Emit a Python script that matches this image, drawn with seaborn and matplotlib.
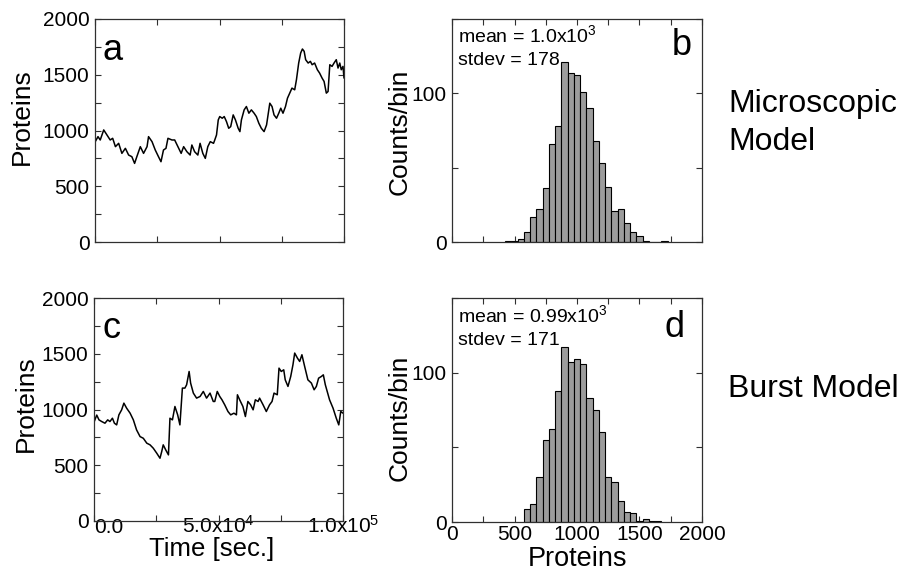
import matplotlib
matplotlib.use("Agg")
import matplotlib.pyplot as plt
import numpy as np
import pandas as pd
import seaborn as sns

# ---------------- time series: microscopic model (panel a) ----------------
micro_time = [0, 100, 1200, 2100, 3500, 4800, 6100, 7100, 8200, 9500, 10800,
              12200, 13500, 14800, 15900, 16800, 18200, 19500, 20900, 21500,
              22900, 24200, 25500, 26500, 27500, 28500, 29300, 30900, 32000,
              33300, 34600, 35600, 36900, 38200, 38900, 40000, 41300, 42200,
              43300, 44300, 45300, 46300, 47600, 48100, 48800, 49500, 50100,
              51100, 51900, 52800, 53700, 54500, 55500, 56400, 57500, 58200,
              58800, 59900, 60800, 61800, 62800, 63900, 64800, 65800, 66800,
              67900, 68900, 69500, 70200, 71100, 71900, 72900, 73800, 74600,
              75500, 76500, 77300, 78200, 79100, 80200, 80900, 81800, 82600,
              83300, 84000, 84600, 85600, 86500, 87200, 88200, 89300, 90200,
              91200, 92000, 92900, 93600, 94300, 95200, 96000, 96900, 97600,
              98300, 98900, 99600, 100000]
micro_proteins = [880, 900, 945, 915, 1005, 960, 915, 930, 855, 885, 795,
                  840, 780, 765, 705, 765, 855, 795, 855, 945, 900, 825, 765,
                  720, 825, 840, 930, 915, 915, 855, 795, 855, 810, 780, 870,
                  810, 780, 885, 795, 750, 855, 900, 885, 915, 960, 1095,
                  1125, 1110, 1125, 1080, 1020, 1035, 1140, 1095, 1020, 990,
                  1095, 1185, 1215, 1155, 1185, 1155, 1125, 1065, 1020, 990,
                  1050, 1140, 1245, 1215, 1140, 1110, 1155, 1200, 1155, 1215,
                  1290, 1335, 1380, 1365, 1455, 1605, 1695, 1731, 1710, 1635,
                  1605, 1620, 1590, 1605, 1545, 1515, 1470, 1440, 1335, 1350,
                  1590, 1575, 1605, 1635, 1560, 1605, 1545, 1575, 1470]

# ---------------- time series: burst model (panel c) ----------------
burst_time = [0, 100, 1100, 2000, 3100, 4400, 5500, 6400, 7400, 8200, 9100,
              10000, 11100, 12000, 13100, 14500, 15800, 17100, 18500, 19800,
              21200, 22500, 23800, 25200, 26500, 27200, 27800, 28800, 29900,
              30500, 31500, 32500, 33600, 34500, 35500, 36500, 37200, 38200,
              38800, 39900, 41200, 42600, 43900, 45200, 46600, 47900, 48500,
              49500, 50500, 51400, 52500, 53800, 54900, 56200, 57200, 57600,
              58500, 59800, 60800, 61800, 62900, 63900, 64800, 65900, 66500,
              67900, 69200, 70500, 71500, 72300, 73600, 74300, 75200, 76200,
              76800, 77900, 79000, 79900, 80600, 81700, 82600, 83500, 84600,
              85900, 87300, 88400, 89300, 90200, 91300, 92100, 92900, 94600,
              96000, 97300, 98300, 99100, 100000]
burst_proteins = [890, 892, 950, 907, 892, 877, 907, 892, 922, 877, 862, 952,
                  997, 1057, 1012, 967, 907, 817, 757, 742, 698, 683, 653, 608,
                  563, 623, 683, 638, 593, 922, 907, 1027, 952, 862, 1192,
                  1192, 1222, 1341, 1237, 1147, 1102, 1117, 1162, 1102, 1147,
                  1072, 1072, 1162, 1117, 1087, 1042, 982, 952, 967, 952,
                  1132, 1087, 1027, 937, 1072, 1042, 997, 1087, 1072, 1102,
                  1042, 982, 1042, 1072, 1147, 1132, 1371, 1341, 1356, 1266,
                  1207, 1296, 1401, 1506, 1461, 1431, 1491, 1386, 1266, 1237,
                  1177, 1207, 1281, 1296, 1311, 1222, 1087, 1012, 922, 862,
                  982, 967]

# ---------------- histograms (bin width 50) ----------------
micro_bin_left = [425, 475, 525, 575, 625, 675, 725, 775, 825, 875, 925, 975,
                  1025, 1075, 1125, 1175, 1225, 1275, 1325, 1375, 1425, 1475,
                  1525, 1575, 1625, 1675]
micro_counts = [1, 1, 2, 7, 17, 22, 36, 66, 78, 121, 114, 112, 101, 90, 68,
                53, 37, 21, 22, 13, 7, 4, 1, 0, 0, 1]

burst_bin_left = [575, 625, 675, 725, 775, 825, 875, 925, 975, 1025, 1075,
                  1125, 1175, 1225, 1275, 1325, 1375, 1425, 1475, 1525, 1575,
                  1625]
burst_counts = [9, 12, 30, 55, 62, 88, 117, 107, 109, 106, 83, 75, 60, 30,
                27, 14, 7, 6, 1, 2, 1, 1]

BIN_WIDTH = 50

micro_stats = ["mean = 1.0x10$^3$", "stdev = 178"]
burst_stats = ["mean = 0.99x10$^3$", "stdev = 171"]
time_tick_labels = ["0.0", "", "5.0x10$^4$", "", "1.0x10$^5$"]
protein_tick_labels = ["0", "", "500", "", "1000", "", "1500", "", "2000"]
count_tick_labels = ["0", "", "100", ""]
hist_x_tick_labels = ["0", "", "500", "", "1000", "", "1500", "", "2000"]

# ---------------- style ----------------
sns.set_style("ticks")
plt.rcParams["font.family"] = ["Liberation Sans", "DejaVu Sans"]
plt.rcParams["mathtext.fontset"] = "custom"
plt.rcParams["mathtext.rm"] = "Liberation Sans"
plt.rcParams["mathtext.it"] = "Liberation Sans:italic"
plt.rcParams["mathtext.bf"] = "Liberation Sans:bold"
plt.rcParams["text.color"] = "black"
plt.rcParams["axes.labelcolor"] = "black"
plt.rcParams["xtick.color"] = "black"
plt.rcParams["ytick.color"] = "black"

W, H = 908, 585
fig = plt.figure(figsize=(W / 100, H / 100), dpi=100)
fig.patch.set_facecolor("white")


def px_axes(left, top, right, bottom):
    return fig.add_axes([left / W, 1 - bottom / H, (right - left) / W,
                         (bottom - top) / H])


def fig_text(x, y, s, **kw):
    fig.text(x / W, 1 - y / H, s, color="black", **kw)


def frame(ax):
    for sp in ax.spines.values():
        sp.set_visible(True)
        sp.set_linewidth(0.9)
        sp.set_color("#303030")
    ax.tick_params(direction="in", top=True, right=True, length=4, width=0.8,
                   color="#303030", labelsize=15, labelcolor="black")
    ax.tick_params(axis="y", pad=4)
    ax.tick_params(axis="x", pad=2)
    ax.set_xlabel("")
    ax.set_ylabel("")
    ax.set_facecolor("white")


ax_a = px_axes(95, 19, 344, 242)
ax_b = px_axes(452, 19, 702, 242)
ax_c = px_axes(94, 298, 343, 521)
ax_d = px_axes(452, 298, 702, 522)

# time series
for ax, t, v in [(ax_a, micro_time, micro_proteins),
                 (ax_c, burst_time, burst_proteins)]:
    df = pd.DataFrame({"time": t, "proteins": v})
    sns.lineplot(data=df, x="time", y="proteins", ax=ax, color="black",
                 linewidth=1.1, estimator=None, sort=False)
    frame(ax)
    ax.set_xlim(0, 100000)
    ax.set_ylim(0, 2000)
    ax.set_xticks([0, 25000, 50000, 75000, 100000])
    ax.set_yticks(np.arange(0, 2001, 250))
    ax.set_yticklabels(protein_tick_labels)

ax_a.set_xticklabels([])
ax_c.set_xticklabels(time_tick_labels)
# time labels sit on a common baseline just under the axis
ax_c.tick_params(axis="x", pad=8.6)
for lbl in ax_c.get_xticklabels():
    lbl.set_verticalalignment("baseline")
ax_c.get_xticklabels()[0].set_horizontalalignment("left")

# histograms
for ax, left, counts in [(ax_b, micro_bin_left, micro_counts),
                         (ax_d, burst_bin_left, burst_counts)]:
    centers = [l + BIN_WIDTH / 2 for l in left]
    df = pd.DataFrame({"proteins": centers, "count": counts})
    sns.histplot(data=df, x="proteins", weights="count", binwidth=BIN_WIDTH,
                 binrange=(left[0], left[-1] + BIN_WIDTH), ax=ax,
                 color="#9c9c9c", edgecolor="black", linewidth=0.8, alpha=1.0)
    frame(ax)
    ax.set_xlim(0, 2000)
    ax.set_ylim(0, 150)
    ax.set_xticks(np.arange(0, 2001, 250))
    ax.set_yticks([0, 50, 100, 150])
    ax.set_yticklabels(count_tick_labels)

ax_b.set_xticklabels([])
ax_d.set_xticklabels(hist_x_tick_labels)

# axis labels
fig_text(22, 117, "Proteins", rotation=90, ha="center", va="center", fontsize=19)
fig_text(26, 404, "Proteins", rotation=90, ha="center", va="center", fontsize=19)
fig_text(400, 132, "Counts/bin", rotation=90, ha="center", va="center", fontsize=19)
fig_text(400, 418, "Counts/bin", rotation=90, ha="center", va="center", fontsize=19)
fig_text(212, 556, "Time [sec.]", ha="center", va="baseline", fontsize=18.5)
fig_text(577, 566, "Proteins", ha="center", va="baseline", fontsize=19.5)

# panel letters
for x, y, s in [(103, 60, "a"), (672, 55, "b"), (102, 338, "c"), (665, 337, "d")]:
    fig_text(x, y, s, ha="left", va="baseline", fontsize=26)

# summary statistics
for x, y, lines in [(458, 42, micro_stats), (458, 322, burst_stats)]:
    fig_text(x, y, lines[0], ha="left", va="baseline", fontsize=14)
    fig_text(x, y + 23, lines[1], ha="left", va="baseline", fontsize=14)

# model names
fig_text(728, 112, "Microscopic", ha="left", va="baseline", fontsize=23)
fig_text(728, 150, "Model", ha="left", va="baseline", fontsize=23)
fig_text(728, 397, "Burst Model", ha="left", va="baseline", fontsize=23)

fig.savefig("out.png", dpi=100, facecolor="white")
